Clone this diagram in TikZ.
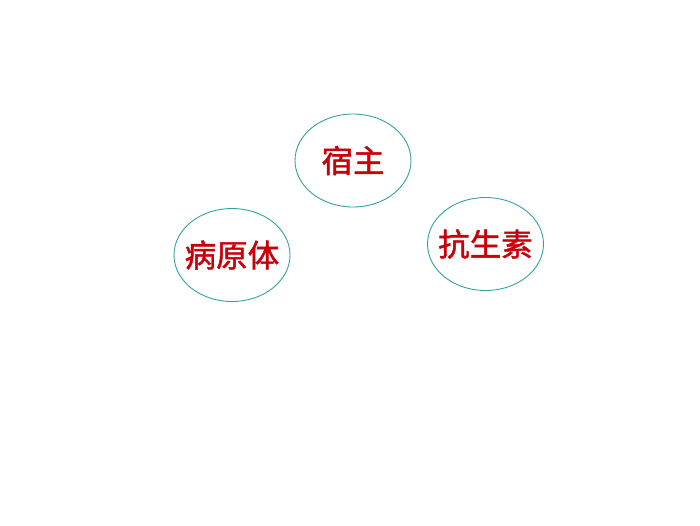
\documentclass[tikz,border=0pt]{standalone}
\usepackage{fontspec}
\newfontfamily\cjk[FakeBold=1.5]{Noto Sans CJK SC}
\usetikzlibrary{shapes.geometric}
\definecolor{ringteal}{RGB}{50,160,165}
\definecolor{wordred}{RGB}{200,0,10}
\begin{document}
\begin{tikzpicture}[x=1pt, y=-1pt, line width=0.9pt,main node/.style={ellipse,draw=ringteal,minimum width=116pt,minimum height=93pt,inner sep=-12pt,text=wordred}]
\useasboundingbox (0,0) rectangle (700,525);
\begin{scope}[every node/.style={font=\cjk\fontsize{31.5}{31.5}\selectfont}]
\node [main node](host) at (353,160.5) {宿主};
\node [main node](pathogen) at (232,255) {病原体};
\node [main node](antibiotic) at (485.5,244) {抗生素};
\end{scope}
\end{tikzpicture}
\end{document}
